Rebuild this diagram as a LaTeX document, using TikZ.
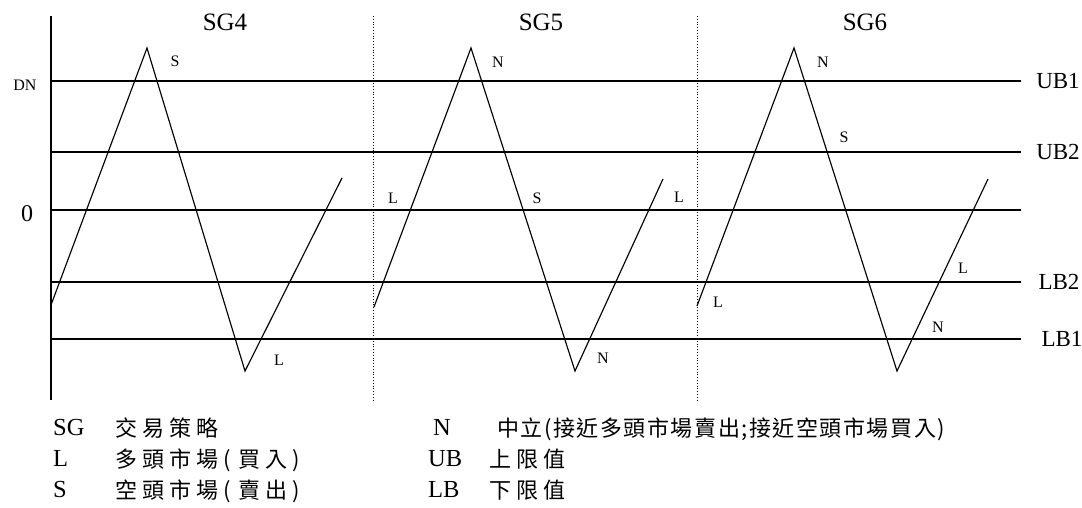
\documentclass[tikz,border=0pt]{standalone}
\usepackage{fontspec}
\setmainfont{Liberation Serif}
\newfontfamily\cjk[LetterSpace=23]{Noto Sans CJK TC}
\newfontfamily\cjkn[LetterSpace=7]{Noto Sans CJK TC}
\begin{document}
\begin{tikzpicture}[x=1pt,y=-1pt,
  ln/.style={line width=1.15pt},
  dotln/.style={line width=0.8pt, dotted},
  small/.style={font=\fontsize{16}{16}\selectfont, inner sep=0pt},
  title/.style={font=\fontsize{25}{25}\selectfont, inner sep=0pt},
  rlab/.style={font=\fontsize{23}{23}\selectfont, inner sep=0pt},
  leg/.style={font=\fontsize{24.5}{24.5}\selectfont, inner sep=0pt, anchor=base west},
  legc/.style={font=\fontsize{22}{22}\selectfont\cjk, inner sep=0pt, anchor=base west},
  legn/.style={font=\fontsize{22}{22}\selectfont\cjkn, inner sep=0pt, anchor=base west}]
\useasboundingbox (0,0) rectangle (1082,508);
% axis
\coordinate (axT) at (51,16);
\coordinate (axB) at (51,400);
\draw[ln] (axT) -- (axB);
% horizontal levels
\foreach \n/\y in {ub1/81, ub2/152, zero/210, lb2/282, lb1/339}{
  \coordinate (\n L) at (51,\y);
  \coordinate (\n R) at (1021,\y);
  \draw[ln] (\n L) -- (\n R);
}
% dotted separators
\coordinate (d1T) at (373.5,16); \coordinate (d1B) at (373.5,400);
\coordinate (d2T) at (697,16);   \coordinate (d2B) at (697,400);
\draw[dotln] (d1T) -- (d1B);
\draw[dotln] (d2T) -- (d2B);
% zigzags
\coordinate (a0) at (51,305);  \coordinate (a1) at (147,48);
\coordinate (a2) at (245,371); \coordinate (a3) at (342,178);
\draw[ln] (a0) -- (a1) -- (a2) -- (a3);
\coordinate (b0) at (374,307); \coordinate (b1) at (471,48);
\coordinate (b2) at (575,371); \coordinate (b3) at (663,179);
\draw[ln] (b0) -- (b1) -- (b2) -- (b3);
\coordinate (c0) at (697,306); \coordinate (c1) at (794,48);
\coordinate (c2) at (897,371); \coordinate (c3) at (988,179);
\draw[ln] (c0) -- (c1) -- (c2) -- (c3);
% titles
\node[title] (t4) at (225,22) {SG4};
\node[title] (t5) at (541,22) {SG5};
\node[title] (t6) at (865,22) {SG6};
% left labels
\node[small] (dn) at (25,85) {DN};
\node[font=\fontsize{24}{24}\selectfont, inner sep=0pt] (zl) at (27,214) {0};
% right labels
\node[rlab] (rub1) at (1058,81) {UB1};
\node[rlab] (rub2) at (1058,152) {UB2};
\node[rlab] (rlb2) at (1059,282) {LB2};
\node[rlab] (rlb1) at (1062,339) {LB1};
% point labels
\node[small] (p1) at (175,61) {S};
\node[small] (p2) at (279,360) {L};
\node[small] (p3) at (498,62) {N};
\node[small] (p4) at (393,198) {L};
\node[small] (p5) at (537,198) {S};
\node[small] (p6) at (679,197) {L};
\node[small] (p7) at (603,358) {N};
\node[small] (p8) at (823,62) {N};
\node[small] (p9) at (844,137) {S};
\node[small] (p10) at (718,302) {L};
\node[small] (p11) at (963,268) {L};
\node[small] (p12) at (938,327) {N};
% legend
\node[leg] (k1) at (53,435) {SG};
\node[legc] (v1) at (115,436) {交易策略};
\node[leg] (k2) at (53,466) {L};
\node[legc] (v2) at (115,467) {多頭市場(\hspace{8pt}買入)};
\node[leg] (k3) at (53,497) {S};
\node[legc] (v3) at (115,498) {空頭市場(\hspace{8pt}賣出)};
\node[leg] (k4) at (433,435) {N};
\node[legn] (v4) at (497,436) {中立(接近多頭市場賣出;接近空頭市場買入)};
\node[leg] (k5) at (428,466) {UB};
\node[legc] (v5) at (489,467) {上限值};
\node[leg] (k6) at (428,497) {LB};
\node[legc] (v6) at (489,498) {下限值};
\end{tikzpicture}
\end{document}
